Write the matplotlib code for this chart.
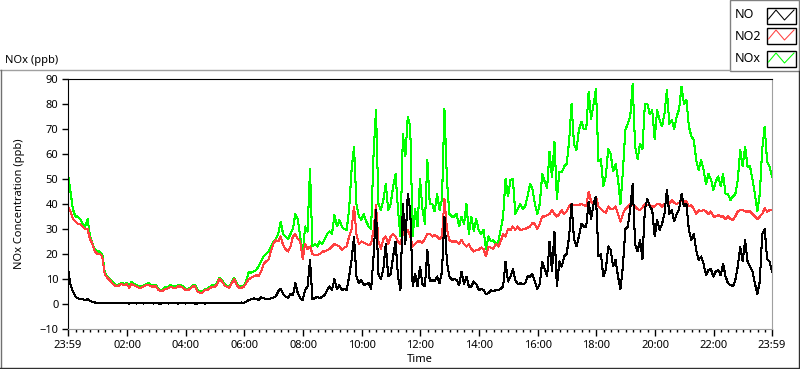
import numpy as np
import matplotlib.pyplot as plt
from matplotlib.patches import Rectangle
from matplotlib.lines import Line2D

plt.rcParams['font.family'] = ['Noto Sans', 'DejaVu Sans']
plt.rcParams['font.size'] = 8

# 5-minute samples, minutes after 23:59 (one row per hour)
minutes = np.arange(0, 1441, 5)

nox = [52, 45, 38, 35, 35, 34, 32, 31, 34, 27, 24, 22,
       21, 21, 20, 13, 11, 10, 9, 8, 7.5, 8, 8.5, 8,
       8.5, 7, 8.8, 8, 7.5, 7, 7, 7.5, 8, 8.3, 7.5, 7.5,
       7.5, 6, 5.5, 6, 6.8, 7, 7.6, 7, 7, 7.5, 7.5, 7,
       6, 6, 6.5, 7.5, 7.5, 5.5, 5, 5, 6, 6, 6.8, 7.5,
       7.2, 8.5, 10.5, 9.5, 8, 7.3, 7, 8.8, 10.5, 8.2, 7, 7.2,
       7.5, 9.5, 13, 12.5, 13, 13.6, 15, 17, 19, 20, 21, 23,
       25, 26, 28, 33, 28, 27, 26, 28, 30, 36, 34, 27,
       20, 31, 29, 54, 23, 24, 23, 25, 24, 26, 28, 29,
       28, 35.6, 31, 33.6, 31, 30, 29.6, 38, 53.6, 63, 40, 35,
       33.6, 36, 33, 31, 30, 60, 77.6, 40, 37.6, 41.6, 48, 37.6,
       40, 47, 52, 37.6, 27, 68, 59, 75, 71, 27, 38, 31,
       50, 38, 32, 57.6, 40, 40, 37, 44, 37.6, 42, 78, 50,
       36, 35, 35, 36, 31, 35, 32, 40, 28, 35, 29, 34,
       29.6, 28, 29.6, 22, 27, 25, 25.6, 24, 25, 29.6, 35, 50,
       43, 49.6, 50, 36, 38, 40, 38, 39, 43, 48, 46, 40,
       36, 40, 52, 49, 46.5, 61, 50.6, 65, 42, 53, 52.6, 55,
       56, 65, 80, 64, 61.6, 69.6, 73, 70, 70, 85, 74, 80,
       86, 57, 58, 47, 51, 62, 60, 53, 56, 50, 40, 53,
       69.6, 72, 75, 88, 63, 58, 64, 62, 80, 80, 76, 77.6,
       66, 77.6, 73.6, 71, 76, 85.6, 72, 73.6, 70, 75, 78, 87,
       80, 81.6, 71, 67, 65.6, 57.6, 53.6, 57.6, 53.6, 48, 52, 50,
       45.6, 49, 51, 47, 52, 44, 44, 41.6, 43, 44, 49.6, 61.6,
       55, 63, 55, 55, 50, 44, 37, 44, 62, 71, 57, 55,
       51]

no2 = [39, 37, 34, 33, 32, 32, 31, 30, 30, 26, 24, 21,
       20, 20, 19, 12, 10.5, 9.5, 8.5, 7.5, 7, 7.5, 8, 7.5,
       8, 6.5, 8, 7.5, 7, 6.5, 6.5, 7, 7.5, 7.6, 7, 7,
       7, 5.6, 5, 5.5, 6, 6.3, 7, 6.5, 6.3, 7, 7, 6.5,
       5.6, 5.6, 6, 7, 7, 5, 4.5, 4.5, 5.6, 5.6, 6.3, 7,
       6.7, 8, 10, 9, 7.5, 6.8, 6.5, 8.3, 10, 7.6, 6.5, 6.5,
       7, 8.5, 10, 10.5, 11, 11.6, 11, 13, 16, 17, 17.6, 21,
       24, 25.6, 25, 27, 23.6, 22, 21, 23, 27, 28, 26, 25,
       18, 24, 22, 23, 20, 19.5, 19.6, 20, 21, 21, 21.6, 22,
       23, 24, 23.5, 23, 21.6, 22.5, 23, 27, 30, 39, 28, 24,
       25, 24.5, 24, 23.6, 24, 29.6, 39.6, 25, 22, 26, 27, 24,
       27, 28, 27, 25, 24, 28, 29.6, 29.6, 27, 23, 24, 25,
       25, 24.5, 26, 28, 28, 27, 27.6, 27, 26, 27, 42, 30,
       25.6, 25, 25, 25, 24, 25.6, 24, 23, 24, 22, 21, 21.5,
       21.6, 22.6, 22, 19, 23, 22.5, 22, 24, 23, 25, 28, 27,
       30, 29.6, 31, 29.6, 31, 29.6, 29.8, 30, 30.5, 31, 32.5, 32,
       30, 32, 35, 35, 35.5, 36, 37.6, 36, 35, 36, 37.6, 36,
       37, 39, 40, 39.6, 39.6, 39.6, 40, 39.5, 39, 45, 41, 40,
       43, 39, 38, 37, 36.5, 39, 38, 38, 39, 36, 33, 36,
       38, 39, 40, 40, 39, 38, 37.6, 38.5, 40, 39.6, 39.6, 39,
       39, 40, 40, 39, 40, 40.5, 40, 41.6, 40.5, 40, 40.5, 41.5,
       41, 41, 39, 39.6, 38, 36, 37.6, 37, 37.6, 37, 36, 37,
       35, 35, 35.6, 35, 35, 34, 35, 34, 33.6, 35, 37, 37.6,
       37.6, 37, 37, 37, 36, 35, 34, 35, 36, 38.3, 37, 37.5,
       37.6]

no = [14, 8, 5, 3, 2.3, 2, 1.9, 1.6, 2, 1.2, 0.8, 0.6,
      0.5, 0.5, 0.4, 0.4, 0.3, 0.3, 0.3, 0.3, 0.3, 0.3, 0.3, 0.3,
      0.3, 0.2, 0.3, 0.3, 0.2, 0.3, 0.3, 0.2, 0.3, 0.3, 0.3, 0.2,
      0.3, 0.2, 0.2, 0.3, 0.3, 0.2, 0.3, 0.3, 0.3, 0.2, 0.3, 0.3,
      0.2, 0.3, 0.3, 0.3, 0.2, 0.2, 0.3, 0.3, 0.2, 0.3, 0.3, 0.3,
      0.3, 0.3, 0.3, 0.3, 0.3, 0.3, 0.3, 0.3, 0.3, 0.4, 0.5, 0.6,
      0.5, 1, 1.6, 1.9, 2.3, 2, 1.6, 2.7, 2.3, 2, 1.9, 2.3,
      2.5, 3, 5, 6, 4, 3, 2.5, 4, 3.5, 8.3, 4.3, 2.3,
      1.5, 5.6, 7, 17.6, 2, 2.3, 3, 2.3, 3, 3.6, 5.6, 7,
      5.6, 10, 6, 7.6, 5.6, 6, 5.6, 11, 17.6, 27, 11, 8.3,
      9.6, 7.6, 8, 8.3, 6, 19, 37.6, 12, 10, 14, 24, 11,
      12, 19, 25, 11, 5.6, 40, 24, 44, 37.6, 7, 12, 7,
      15, 8, 7, 21.6, 9, 9.6, 9, 11, 8.3, 13, 35, 17,
      11, 9.6, 10, 9.6, 7.5, 13, 8, 11, 7, 7, 9, 8,
      5.6, 6, 5.6, 4, 4.3, 5.6, 5, 5.6, 5.6, 6, 7, 17,
      9, 11, 14, 9.6, 8, 8.3, 8, 8.3, 11, 11, 12, 9,
      6, 8, 17, 14, 11, 25, 13, 29, 7, 17, 15, 19,
      20, 27, 40, 26, 23, 27, 32, 31, 31, 41, 34, 40,
      43, 19, 20, 11, 13.6, 23, 21.6, 15, 17.6, 11, 6, 15,
      30, 31, 38, 48, 24, 21, 25.6, 18, 38, 42, 39, 37.6,
      27, 33.6, 29.6, 32, 36, 45.6, 36, 37.6, 33, 36, 38, 44,
      39, 40, 29.6, 25.6, 28, 21.6, 17.6, 19, 16, 11.6, 13.6, 14,
      11, 13, 13.6, 11.5, 16, 11, 8.3, 7.6, 7, 9.6, 15, 23,
      17, 25.6, 17, 15, 13, 8.3, 4, 9, 28, 30, 18, 17,
      13]

series_names = ['NO', 'NO2', 'NOx']
series_colors = ['black', '#ff4040', '#00ff00']

tick_pos = [0, 121, 241, 361, 481, 601, 721, 841, 961, 1081, 1201, 1321, 1440]
tick_labels = ['23:59', '02:00', '04:00', '06:00', '08:00', '10:00', '12:00',
               '14:00', '16:00', '18:00', '20:00', '22:00', '23:59']

W, H = 800, 369


def fx(px):
    return px / W


def fy(py):
    return 1 - py / H


fig = plt.figure(figsize=(W / 100, H / 100), dpi=100)
ax = fig.add_axes([fx(68), fy(329), fx(772) - fx(68), fy(79) - fy(329)])

# draw NOx under NO2 under NO
for vals, col in [(nox, series_colors[2]), (no2, series_colors[1]), (no, series_colors[0])]:
    ax.plot(minutes, vals, color=col, lw=0.75, antialiased=False)

ax.set_xlim(0, 1440)
ax.set_ylim(-10, 90)
ax.set_yticks(np.arange(-10, 91, 10))
ax.set_xticks(tick_pos)
ax.set_xticklabels(tick_labels)
ax.set_xticks(np.arange(16, 1440, 15), minor=True)
ax.tick_params(axis='both', which='major', direction='out', length=4, width=1, pad=3, labelsize=8)
ax.tick_params(axis='x', which='minor', direction='out', length=2.5, width=1)
ax.tick_params(axis='x', which='major', length=5)

for s in ['top', 'left']:
    ax.spines[s].set_color('black')
for s in ['bottom', 'right']:
    ax.spines[s].set_color('#a0a0a0')

# labels
fig.text(fx(20), fy(204), 'NOx Concentration (ppb)', rotation=90, ha='center', va='center', fontsize=8)
fig.text(fx(420), fy(360), 'Time', ha='center', va='center', fontsize=8)
fig.text(fx(5), fy(60), 'NOx (ppb)', ha='left', va='center', fontsize=8)

# outer frame
fig.add_artist(Line2D([fx(0), fx(730)], [fy(69.5), fy(69.5)], color='#a0a0a0', lw=1))
fig.add_artist(Line2D([fx(0.5), fx(0.5)], [fy(69.5), fy(368)], color='#707070', lw=1))
fig.add_artist(Line2D([fx(0), fx(798.5)], [fy(368), fy(368)], color='#303030', lw=1))
fig.add_artist(Line2D([fx(798.5), fx(798.5)], [fy(71), fy(368)], color='#303030', lw=1))

# legend panel
fig.add_artist(Rectangle((fx(730), fy(71)), fx(69), fy(0) - fy(71),
                         facecolor='white', edgecolor='#808080', lw=1))
box_tops = [8, 28, 51]
text_y = [14, 36, 59]
for name, col, top, ty in zip(series_names, series_colors, box_tops, text_y):
    fig.text(fx(735), fy(ty), name, ha='left', va='center', fontsize=9)
    fig.add_artist(Rectangle((fx(767), fy(top + 16)), fx(29), fy(top) - fy(top + 16),
                             facecolor='white', edgecolor='black', lw=1))
    zx = [768.5, 776, 784.5, 794]
    zy = [top + 11, top + 2, top + 12, top + 2]
    fig.add_artist(Line2D([fx(v) for v in zx], [fy(v) for v in zy], color=col, lw=0.75))

fig.savefig('out.png', dpi=100)
